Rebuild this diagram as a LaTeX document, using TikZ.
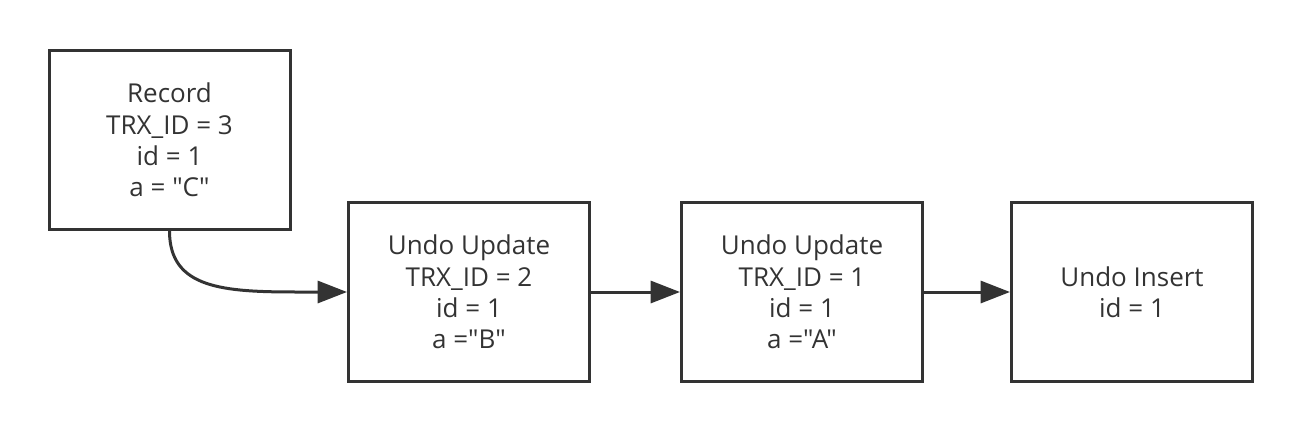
\documentclass[tikz,border=0pt]{standalone}
\usepackage{fontspec}
\newfontfamily\boxfont{Open Sans}
\usetikzlibrary{arrows.meta}
\definecolor{ink}{HTML}{333333}
\tikzset{
  box/.style={draw=ink, line width=2.25pt, minimum width=180.75pt, minimum height=134.25pt,
    align=center, text=ink, font=\boxfont\fontsize{19.5}{23.5}\selectfont, inner sep=0pt},
  conn/.style={draw=ink, line width=2.25pt, -{Triangle[length=22pt,width=16.5pt]}}
}
\begin{document}
\begin{tikzpicture}[x=0.75pt,y=-0.75pt]
\useasboundingbox (0,0) rectangle (1302,432);
\node[box] (rec) at (169.5,140) {Record\\TRX\_ID = 3\\id = 1\\a = "C"};
\node[box] (u1) at (469,292) {Undo Update\\TRX\_ID = 2\\id = 1\\a ="B"};
\node[box] (u2) at (802,292) {Undo Update\\TRX\_ID = 1\\id = 1\\a ="A"};
\node[box] (ins) at (1132,292) {Undo Insert\\id = 1};
\coordinate (bend) at ([xshift=-36pt]u1.west);
\draw[conn] (rec.south) .. controls +(0,58) and +(-75,0) .. (bend) -- (u1.west);
\draw[conn] (u1) -- (u2);
\draw[conn] (u2) -- (ins);
\end{tikzpicture}
\end{document}
